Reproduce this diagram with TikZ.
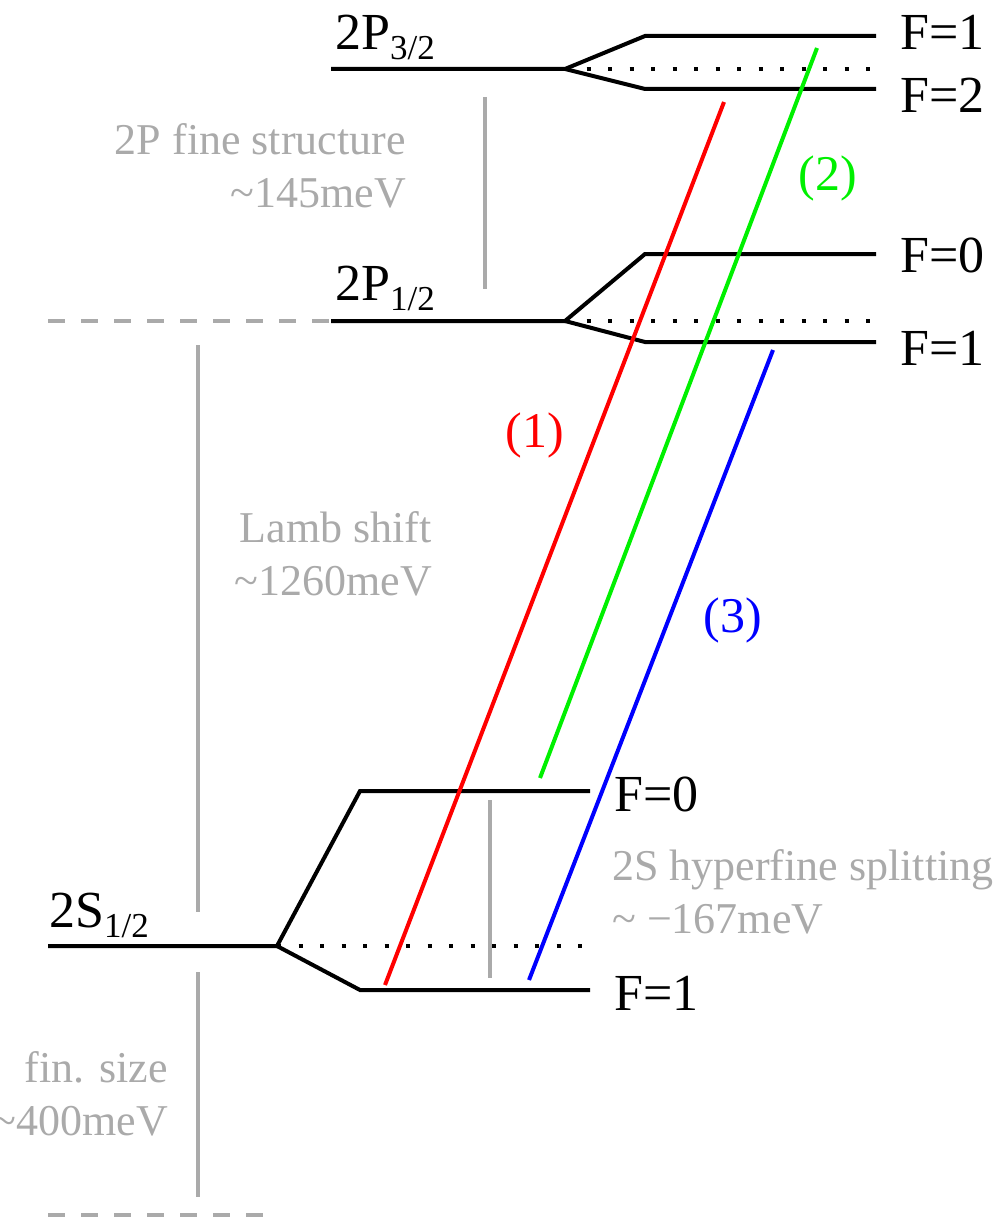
\documentclass[tikz,border=0pt]{standalone}
\usepackage{fontspec}
\setmainfont{Liberation Serif}
\definecolor{lgray}{RGB}{170,170,170}
\definecolor{lred}{RGB}{255,0,0}
\definecolor{lgreen}{RGB}{0,240,0}
\definecolor{lblue}{RGB}{0,0,255}
\newcommand\lvsub[1]{\raisebox{-10pt}{\fontsize{35}{35}\selectfont #1}}
\begin{document}
\begin{tikzpicture}[x=1pt,y=-1pt,
  level/.style={line width=4pt, black, line join=miter},
  dotlevel/.style={line width=4pt, black, dash pattern=on 4pt off 17.5pt},
  graydash/.style={line width=4pt, lgray, dash pattern=on 17pt off 16pt},
  grayline/.style={line width=3.5pt, lgray},
  trans/.style={line width=4pt},
  big/.style={font=\fontsize{52}{62}\selectfont, inner sep=0pt},
  note/.style={font=\fontsize{44}{53}\selectfont, text=lgray, inner sep=0pt},
  num/.style={font=\fontsize{50}{60}\selectfont, inner sep=0pt}]
\useasboundingbox (0,0) rectangle (999,1217);

% ---------- 2P3/2 ----------
\coordinate (a0) at (331,69);
\coordinate (a1) at (565,69);
\coordinate (a2) at (645,36);
\coordinate (a3) at (876,36);
\coordinate (a4) at (645,89);
\coordinate (a5) at (876,89);
\coordinate (a6) at (876,69);
\draw[level] (a0) -- (a1) -- (a2) -- (a3);
\draw[level] (a1) -- (a4) -- (a5);
\draw[dotlevel] (a1) -- (a6);
\node[big, anchor=base west] (l2p3) at (335,50) {2P\lvsub{3/2}};
\node[big, anchor=base west] (fa1) at (900,50) {F=1};
\node[big, anchor=base west] (fa2) at (900,113) {F=2};

% ---------- 2P1/2 ----------
\coordinate (b0) at (331,321);
\coordinate (b1) at (565,321);
\coordinate (b2) at (645,254);
\coordinate (b3) at (876,254);
\coordinate (b4) at (645,342);
\coordinate (b5) at (876,342);
\coordinate (b6) at (876,321);
\coordinate (bd) at (48,321);
\draw[graydash] (bd) -- (b0);
\draw[level] (b0) -- (b1) -- (b2) -- (b3);
\draw[level] (b1) -- (b4) -- (b5);
\draw[dotlevel] (b1) -- (b6);
\node[big, anchor=base west] (l2p1) at (335,300) {2P\lvsub{1/2}};
\node[big, anchor=base west] (fb0) at (900,272) {F=0};
\node[big, anchor=base west] (fb1) at (900,365) {F=1};

% ---------- 2S1/2 ----------
\coordinate (c0) at (48,946);
\coordinate (c1) at (277,946);
\coordinate (c2) at (360,791);
\coordinate (c3) at (590,791);
\coordinate (c4) at (360,990);
\coordinate (c5) at (590,990);
\coordinate (c6) at (590,946);
\draw[level] (c0) -- (c1) -- (c2) -- (c3);
\draw[level] (c1) -- (c4) -- (c5);
\draw[dotlevel] (c1) -- (c6);
\node[big, anchor=base west] (l2s) at (49,927) {2S\lvsub{1/2}};
\node[big, anchor=base west] (fc0) at (614,811) {F=0};
\node[big, anchor=base west] (fc1) at (614,1010) {F=1};

% bottom dashed reference
\coordinate (d0) at (48,1215);
\coordinate (d1) at (270,1215);
\draw[graydash] (d0) -- (d1);

% ---------- gray scale bars ----------
\coordinate (g1a) at (485,97);  \coordinate (g1b) at (485,289);
\coordinate (g2a) at (198,345); \coordinate (g2b) at (198,912);
\coordinate (g3a) at (198,972); \coordinate (g3b) at (198,1197);
\coordinate (g4a) at (490,800); \coordinate (g4b) at (490,978);
\draw[grayline] (g1a) -- (g1b);
\draw[grayline] (g2a) -- (g2b);
\draw[grayline] (g3a) -- (g3b);
\draw[grayline] (g4a) -- (g4b);

\node[note, anchor=east, align=right] (tfs) at (406,166) {2P fine structure\\\textasciitilde145meV};
\node[note, anchor=east, align=right] (tls) at (432,554) {Lamb shift\\\textasciitilde1260meV};
\node[note, anchor=east, align=right] (tfin) at (168,1094) {fin. size\\\textasciitilde400meV};
\node[note, anchor=west, align=left] (thfs) at (612,892) {2S hyperfine splitting\\\textasciitilde\ −167meV};

% ---------- transitions ----------
\coordinate (r0) at (385,985); \coordinate (r1) at (724,102);
\coordinate (gr0) at (540,778); \coordinate (gr1) at (817,48);
\coordinate (bl0) at (529,980); \coordinate (bl1) at (773,350);
\draw[trans, lred] (r0) -- (r1);
\draw[trans, lgreen] (gr0) -- (gr1);
\draw[trans, lblue] (bl0) -- (bl1);
\node[num, text=lred] (n1) at (535,435) {(1)};
\node[num, text=lgreen] (n2) at (828,178) {(2)};
\node[num, text=lblue] (n3) at (733,620) {(3)};
\end{tikzpicture}
\end{document}
